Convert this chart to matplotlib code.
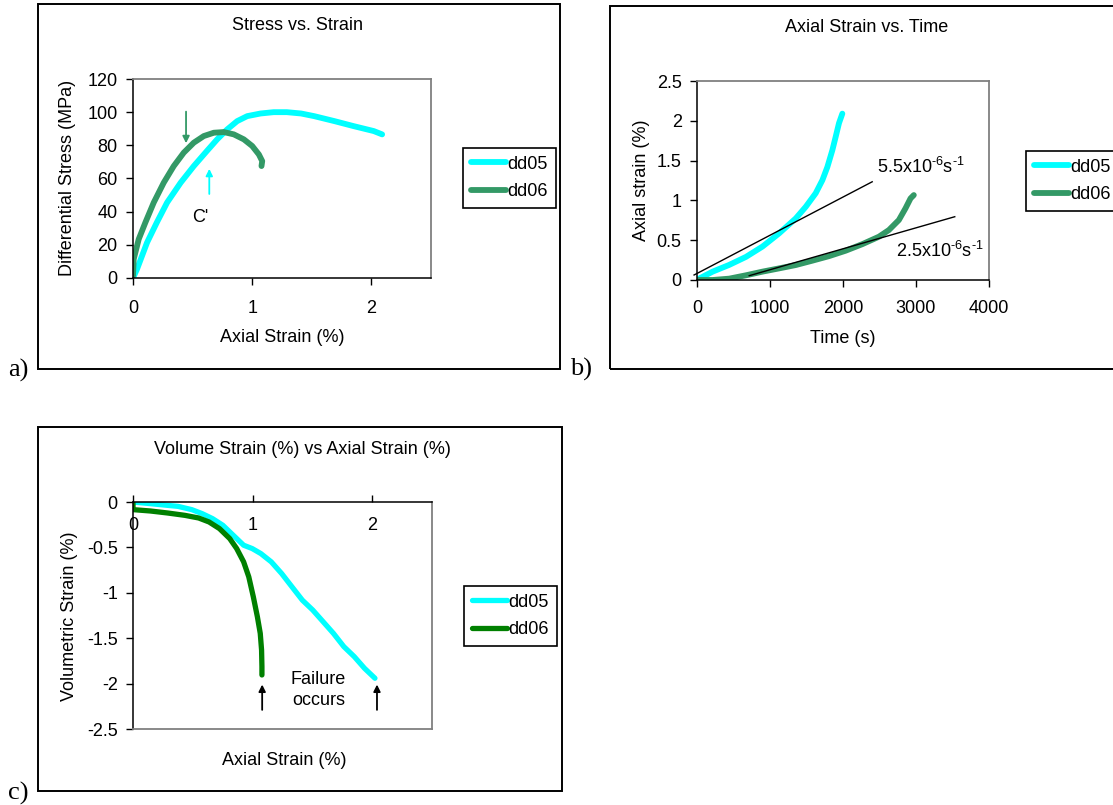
import numpy as np
import matplotlib
matplotlib.use("Agg")
from matplotlib import pyplot as plt
from matplotlib.patches import Rectangle
from matplotlib.ticker import FuncFormatter

plt.rcParams['font.family'] = ['Liberation Sans', 'DejaVu Sans']
plt.rcParams['mathtext.fontset'] = 'custom'
plt.rcParams['mathtext.rm'] = 'Liberation Sans'
plt.rcParams['axes.unicode_minus'] = False

#%% data
# a) stress vs strain
a_dd05_x = [0, 0.034, 0.118, 0.20, 0.286, 0.40, 0.51, 0.62, 0.706, 0.79, 0.874, 0.958,
            1.07, 1.18, 1.29, 1.41, 1.52, 1.69, 1.85, 2.02, 2.09]
a_dd05_y = [0, 5.4, 21.4, 33.5, 45.5, 57.5, 67.5, 76.6, 83.6, 89.6, 94.6, 97.6,
            99.2, 100, 100, 99.2, 97.6, 94.6, 91.6, 88.6, 86.6]
a_dd06_x = [0, 0.006, 0.048, 0.104, 0.174, 0.258, 0.342, 0.426, 0.51, 0.594, 0.678,
            0.762, 0.846, 0.93, 1.0, 1.056, 1.084, 1.078]
a_dd06_y = [1.4, 11.4, 23.4, 33.5, 45.5, 57.5, 67.5, 75.6, 81.6, 85.6, 87.6,
            88, 86.6, 83.6, 79.6, 74.5, 70.5, 67.5]

# b) axial strain vs time
b_dd05_t = [9, 214, 442, 670, 897, 1125, 1353, 1490, 1626, 1718, 1786, 1854, 1900, 1945, 1991]
b_dd05_e = [0.008, 0.105, 0.19, 0.29, 0.42, 0.586, 0.774, 0.92, 1.09, 1.255, 1.42, 1.63,
            1.80, 1.97, 2.09]
b_dd06_t = [0, 214, 442, 670, 897, 1125, 1353, 1581, 1809, 2036, 2264, 2492, 2629,
            2765, 2856, 2925, 2970]
b_dd06_e = [0, 0, 0.017, 0.059, 0.105, 0.146, 0.188, 0.243, 0.30, 0.368, 0.45, 0.544,
            0.628, 0.753, 0.90, 1.025, 1.067]
rate1_t = [-40, 2400]
rate1_e = [0.063, 1.234]
rate2_t = [715, 3531]
rate2_e = [0.054, 0.795]

# c) volumetric strain vs axial strain
c_dd05_x = [0, 0.145, 0.289, 0.376, 0.491, 0.578, 0.665, 0.751, 0.838, 0.925, 0.997,
            1.069, 1.156, 1.243, 1.329, 1.416, 1.503, 1.59, 1.676, 1.763, 1.85, 1.936, 2.023]
c_dd05_y = [0, -0.018, -0.037, -0.048, -0.084, -0.128, -0.183, -0.256, -0.366, -0.476,
            -0.513, -0.568, -0.659, -0.788, -0.934, -1.081, -1.19, -1.319, -1.447,
            -1.593, -1.703, -1.832, -1.941]
c_dd06_x = [0, 0, 0.145, 0.289, 0.434, 0.549, 0.636, 0.723, 0.809, 0.867, 0.925, 0.968,
            1.006, 1.04, 1.064, 1.075, 1.078, 1.078]
c_dd06_y = [-0.018, -0.084, -0.099, -0.121, -0.147, -0.176, -0.22, -0.293, -0.403,
            -0.513, -0.659, -0.824, -1.044, -1.264, -1.447, -1.63, -1.813, -1.905]

labels = ['dd05', 'dd06']

#%% figure
W, H = 1113, 805
fig = plt.figure(figsize=(W / 100, H / 100), dpi=100)
fs = 13
cyan = '#00FFFF'
sea = '#339966'
dkgreen = '#008000'
gray = '#808080'


def fx(x):
    return x / W


def fy(y):
    return 1 - y / H


def frame(x0, y0, x1, y1):
    fig.add_artist(Rectangle((fx(x0), fy(y1)), fx(x1) - fx(x0), fy(y0) - fy(y1),
                             transform=fig.transFigure, fill=False,
                             edgecolor='black', lw=1.4, clip_on=False))


def excel_axes(ax):
    for s in ['top', 'right']:
        ax.spines[s].set_color(gray)
        ax.spines[s].set_linewidth(1.3)
    for s in ['left', 'bottom']:
        ax.spines[s].set_color('black')
        ax.spines[s].set_linewidth(1.1)
    ax.tick_params(labelsize=fs, length=5, width=1, direction='out')


def excel_legend(ax, x, y):
    leg = ax.legend(loc='upper left', bbox_to_anchor=(fx(x), fy(y)),
                    bbox_transform=fig.transFigure, fontsize=fs, handlelength=1.95,
                    handletextpad=0.1, borderpad=0.42, labelspacing=0.58,
                    borderaxespad=0, fancybox=False, edgecolor='black', framealpha=1)
    leg.get_frame().set_linewidth(1.2)


fmt = FuncFormatter(lambda v, p: '%g' % v)
rate_lbl = '{}x10$^{{\\mathregular{{\u20106}}}}$s$^{{\\mathregular{{\u20101}}}}$'

frame(38, 4, 560, 369)
frame(610, 6, 1140, 369)
frame(38, 427, 562, 791)

# a)
ax1 = fig.add_axes([fx(133), fy(278), fx(431) - fx(133), fy(79) - fy(278)])
ax1.plot(a_dd05_x, a_dd05_y, color=cyan, lw=4.2, solid_capstyle='round', label=labels[0])
ax1.plot(a_dd06_x, a_dd06_y, color=sea, lw=4.2, solid_capstyle='round', label=labels[1])
ax1.set_xlim(0, 2.5)
ax1.set_ylim(0, 120)
ax1.set_xticks([0, 1, 2])
ax1.set_yticks(np.arange(0, 121, 20))
excel_axes(ax1)
ax1.tick_params(axis='x', pad=10.5)
ax1.tick_params(axis='y', pad=6)
ax1.annotate('', xy=(0.445, 79.6), xytext=(0.445, 102),
             arrowprops=dict(arrowstyle='-|>', color=sea, lw=1.3, mutation_scale=10))
ax1.annotate('', xy=(0.64, 67.5), xytext=(0.64, 49),
             arrowprops=dict(arrowstyle='-|>', color=cyan, lw=1.3, mutation_scale=10))
ax1.text(0.562, 36.2, "C'", fontsize=fs, ha='center', va='center')
excel_legend(ax1, 463, 148)
fig.text(fx(298), fy(26), 'Stress vs. Strain', fontsize=fs, ha='center', va='center')
fig.text(fx(68), fy(178), 'Differential Stress (MPa)', fontsize=fs, ha='center',
         va='center', rotation=90)
fig.text(fx(282), fy(337), 'Axial Strain (%)', fontsize=fs, ha='center', va='center')

# b)
ax2 = fig.add_axes([fx(697), fy(280), fx(989) - fx(697), fy(81) - fy(280)])
ax2.plot(b_dd05_t, b_dd05_e, color=cyan, lw=4.2, solid_capstyle='round', label=labels[0])
ax2.plot(b_dd06_t, b_dd06_e, color=sea, lw=4.2, solid_capstyle='round', label=labels[1])
ax2.plot(rate1_t, rate1_e, color='black', lw=1, clip_on=False)
ax2.plot(rate2_t, rate2_e, color='black', lw=1, clip_on=False)
ax2.set_xlim(0, 4000)
ax2.set_ylim(0, 2.5)
ax2.set_xticks(np.arange(0, 4001, 1000))
ax2.set_yticks(np.arange(0, 2.51, 0.5))
ax2.yaxis.set_major_formatter(fmt)
excel_axes(ax2)
ax2.tick_params(axis='x', pad=9.5)
ax2.tick_params(axis='y', pad=6)
ax2.text(2466, 1.344, rate_lbl.format('5.5'), fontsize=fs, ha='left', va='baseline')
ax2.text(2726, 0.289, rate_lbl.format('2.5'), fontsize=fs, ha='left', va='baseline')
excel_legend(ax2, 1026, 151)
fig.text(fx(867), fy(28), 'Axial Strain vs. Time', fontsize=fs, ha='center', va='center')
fig.text(fx(641), fy(180), 'Axial strain (%)', fontsize=fs, ha='center', va='center',
         rotation=90)
fig.text(fx(843), fy(338), 'Time (s)', fontsize=fs, ha='center', va='center')

# c)
ax3 = fig.add_axes([fx(133), fy(729), fx(432) - fx(133), fy(502) - fy(729)])
ax3.plot(c_dd05_x, c_dd05_y, color=cyan, lw=3.8, solid_capstyle='round', label=labels[0])
ax3.plot(c_dd06_x, c_dd06_y, color=dkgreen, lw=3.8, solid_capstyle='round', label=labels[1])
ax3.set_xlim(0, 2.5)
ax3.set_ylim(-2.5, 0)
ax3.set_xticks([0, 1, 2])
ax3.set_yticks(np.arange(-2.5, 0.01, 0.5))
ax3.yaxis.set_major_formatter(fmt)
excel_axes(ax3)
ax3.spines['bottom'].set_position(('data', 0))
ax3.spines['top'].set_position(('data', -2.5))
ax3.spines['bottom'].set_zorder(3)
ax3.tick_params(axis='x', direction='in', pad=11)
ax3.tick_params(axis='y', pad=6)
ax3.annotate('', xy=(1.08, -1.98), xytext=(1.08, -2.32),
             arrowprops=dict(arrowstyle='-|>', color='black', lw=1.3, mutation_scale=10))
ax3.annotate('', xy=(2.04, -1.98), xytext=(2.04, -2.32),
             arrowprops=dict(arrowstyle='-|>', color='black', lw=1.3, mutation_scale=10))
ax3.text(1.55, -2.07, 'Failure\noccurs', fontsize=fs, ha='center', va='center',
         linespacing=1.25)
excel_legend(ax3, 464, 586)
fig.text(fx(302), fy(449), 'Volume Strain (%) vs Axial Strain (%)', fontsize=fs,
         ha='center', va='center')
fig.text(fx(70), fy(616), 'Volumetric Strain (%)', fontsize=fs, ha='center', va='center',
         rotation=90)
fig.text(fx(284), fy(760), 'Axial Strain (%)', fontsize=fs, ha='center', va='center')

# panel letters
for s, x, y in [('a)', 8, 377), ('b)', 570, 376), ('c)', 8, 800)]:
    fig.text(fx(x), fy(y), s, fontsize=19, family='Liberation Serif', ha='left', va='baseline')

fig.savefig('out.png', dpi=100)
